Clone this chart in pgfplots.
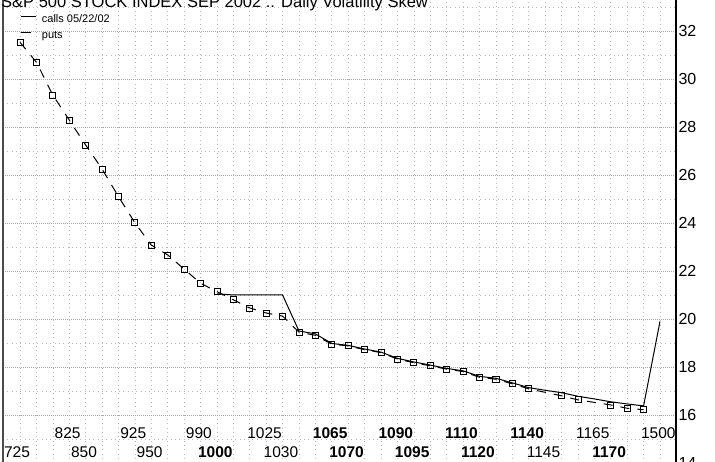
\documentclass[border=0pt]{standalone}
\usepackage{fontspec}
\setmainfont{Liberation Sans}
\usepackage{pgfplots}
\usepackage{pgfplotstable}
\pgfplotsset{compat=1.18}

\pgfplotstableread{
i v
0 31.53
1 30.70
2 29.33
3 28.29
4 27.25
5 26.25
6 25.10
7 24.01
8 23.08
9 22.67
10 22.08
11 21.49
12 21.14
13 20.80
14 20.46
15 20.25
16 20.12
17 19.45
18 19.32
19 18.95
20 18.88
21 18.72
22 18.60
23 18.33
24 18.18
25 18.05
26 17.91
27 17.81
28 17.57
29 17.49
30 17.30
31 17.09
33 16.80
34 16.63
36 16.42
37 16.28
38 16.22
}\puts

\pgfplotstableread{
i v
12 21.05
13 21.00
14 21.00
15 21.00
16 21.00
17 19.50
18 19.38
19 18.98
20 18.90
21 18.75
22 18.62
23 18.36
24 18.21
25 18.08
26 17.94
27 17.84
28 17.61
29 17.53
30 17.34
31 17.14
32 17.03
33 16.93
34 16.78
35 16.67
36 16.55
37 16.46
38 16.38
39 19.90
}\calls

\begin{document}
\begin{tikzpicture}[x=1bp,y=1bp]
\useasboundingbox (0,0) rectangle (715,462);
\clip (0,0) rectangle (715,462);
\begin{axis}[
  at={(3bp,-1bp)}, anchor=south west,
  scale only axis, width=673bp, height=465.6bp,
  xmin=-1.036, xmax=39.976, ymin=14, ymax=33.4,
  axis line style={draw=none},
  clip=false,
  xtick={0,...,39}, xticklabels={},
  ytick={14,16,...,32}, minor ytick={15,17,...,33},
  yticklabel pos=right,
  major tick length=0pt, minor tick length=0pt,
  /pgf/number format/assume math mode=true,
  yticklabel style={anchor=west, inner sep=0pt, xshift=2.3bp, font=\fontsize{16bp}{18bp}\selectfont},
  grid=both,
  x grid style={gray!55, line width=0.6bp, dash pattern=on 0.8bp off 3.5bp},
  major y grid style={gray!70, line width=0.6bp, dash pattern=on 0.8bp off 1.2bp},
  minor y grid style={gray!55, line width=0.6bp, dash pattern=on 0.8bp off 3.5bp},
  legend style={at={(axis description cs:0.0263,0.9637)}, anchor=north west,
    draw=none, fill=none, inner sep=0pt, row sep=5.6bp, column sep=5.7bp,
    font=\fontsize{11bp}{13bp}\selectfont,
    nodes={inner sep=0pt, text height=8bp, text depth=2.4bp}},
  legend cell align=left,
  legend image code/.code={\draw[#1] (0bp,3bp) -- (14.3bp,3bp);},
]
\addplot[forget plot, black, line width=1bp, dash pattern=on 9bp off 8bp,
  mark=square, mark size=3bp, mark options={solid, line width=0.8bp}] table[x=i,y=v] {\puts};
\addplot[forget plot, black, line width=1bp, solid] table[x=i,y=v] {\calls};
\addlegendimage{black, line width=1bp, solid}
\addlegendentry{calls 05/22/02}
\addlegendimage{black, line width=1bp, dash pattern=on 10bp off 10bp}
\addlegendentry{puts}

\draw[gray!60!black, line width=1.6bp] ([xshift=-0.3bp]rel axis cs:0,0) -- ([xshift=-0.3bp]rel axis cs:0,1);
\draw[black, line width=1.3bp] (rel axis cs:1,0) -- (rel axis cs:1,1);

\tikzset{lab/.style={inner sep=0pt, anchor=center, font=\fontsize{15.5bp}{17bp}\selectfont}}
\node[lab] at (axis cs:-0.18,14.46) {725};
\node[lab] at (axis cs:2.9,15.24) {825};
\node[lab] at (axis cs:3.9,14.46) {850};
\node[lab] at (axis cs:6.9,15.24) {925};
\node[lab] at (axis cs:7.9,14.46) {950};
\node[lab] at (axis cs:10.9,15.24) {990};
\node[lab] at (axis cs:11.9,14.46) {\bfseries 1000};
\node[lab] at (axis cs:14.9,15.24) {1025};
\node[lab] at (axis cs:15.9,14.46) {1030};
\node[lab] at (axis cs:18.9,15.24) {\bfseries 1065};
\node[lab] at (axis cs:19.9,14.46) {\bfseries 1070};
\node[lab] at (axis cs:22.9,15.24) {\bfseries 1090};
\node[lab] at (axis cs:23.9,14.46) {\bfseries 1095};
\node[lab] at (axis cs:26.9,15.24) {\bfseries 1110};
\node[lab] at (axis cs:27.9,14.46) {\bfseries 1120};
\node[lab] at (axis cs:30.9,15.24) {\bfseries 1140};
\node[lab] at (axis cs:31.9,14.46) {1145};
\node[lab] at (axis cs:34.9,15.24) {1165};
\node[lab] at (axis cs:35.9,14.46) {\bfseries 1170};
\node[lab] at (axis cs:38.9,15.24) {1500};
\end{axis}
\node[anchor=base west, inner sep=0pt, font=\fontsize{16.5bp}{18bp}\selectfont] at (1bp,454.5bp) {S\&P 500 STOCK INDEX SEP 2002 :: Daily Volatility Skew};
\end{tikzpicture}
\end{document}
